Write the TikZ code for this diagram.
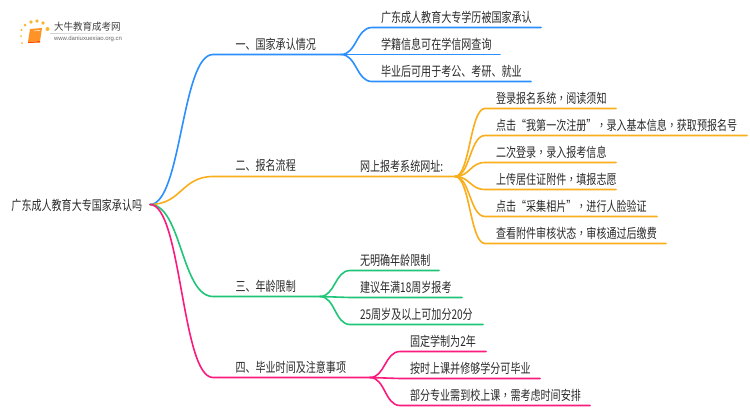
\documentclass[tikz,border=0pt]{standalone}
\usepackage{fontspec}
\setmainfont{Noto Sans CJK SC}[FakeStretch=0.75]
\newfontfamily\tcfont{Noto Sans CJK TC}[FakeStretch=0.75]
\newfontfamily\logofont{Noto Sans CJK SC}[FakeStretch=0.95]
\newfontfamily\urlfont{Liberation Sans}
\newcommand{\cmm}{{\tcfont ，}}
\usetikzlibrary{calc}
\definecolor{cblue}{HTML}{2B8FFF}
\definecolor{corange}{HTML}{F9AE1B}
\definecolor{cgreen}{HTML}{1FC678}
\definecolor{cpink}{HTML}{FB1A7E}
\definecolor{ctext}{HTML}{2A2A2A}
\tikzset{
  x=1pt,y=-1pt,
  lbl/.style={font=\fontsize{13.4}{14}\selectfont,text=ctext,anchor=west,inner sep=0pt,outer sep=0pt},
  wire/.style={line width=1.6pt,line cap=round,line join=round},
  pt/.style={inner sep=0pt,outer sep=0pt,minimum size=0pt}
}
% colour, start, bend end, straight end
\newcommand{\bez}[4]{\draw[wire,#1] (#2) .. controls ($(#2)!0.5!(#2 -| #3)$) and ($(#3)!0.5!(#3 -| #2)$) .. (#3) -- (#4);}
\begin{document}
\begin{tikzpicture}
\useasboundingbox (0,0) rectangle (750,410);
\fill[white] (0,0) rectangle (750,410);
% logo
\shade[left color=black!18,right color=white] (50,33) rectangle (133,33.6);
\foreach \a/\b/\r in {22/43/1,21/36/1,21.5/30/1.2,25/25/1.5,31/22/1.8,37/21/1.9,43/23/1.9,47.5/29/2}
  \fill[corange!90!white] (\a,\b) circle (\r);
\fill[orange!85!white] (30,29) -- (42,28) -- (40,41) -- (28,42) -- cycle;
\fill[orange!60!red] (28,42) -- (40,41) -- (40,42.5) -- (28,43) -- cycle;
\draw[white,line width=.5pt] (34,31) -- (40,30.5);
\node[lbl,font=\logofont\fontsize{10}{10}\selectfont,text=black!75] (logoa) at (54,26.5) {大牛教育成考网};
\node[lbl,font=\urlfont\fontsize{6}{6}\selectfont,text=black!60] (logob) at (54,38.6) {www.daniuxuexiao.org.cn};
% points
\node[pt] (root) at (150,204.5) {};
\node[pt] (a) at (213,54.5) {}; \node[pt] (a1) at (341,54.5) {};
\node[pt] (b) at (213,176.5) {}; \node[pt] (b1) at (455,176.5) {};
\node[pt] (c) at (213,296.5) {}; \node[pt] (c1) at (320,296.5) {};
\node[pt] (d) at (213,377.5) {}; \node[pt] (d1) at (370,377.5) {};
% root and labels
\node[lbl] (rt) at (11.5,205.5) {广东成人教育大专国家承认吗};
\node[lbl] (la) at (235.5,44.5) {一、国家承认情况};
\node[lbl] (lb) at (235.5,165.5) {二、报名流程};
\node[lbl] (lc) at (235.5,286.5) {三、年龄限制};
\node[lbl] (ld) at (235.5,367.5) {四、毕业时间及注意事项};
\node[lbl] (lb1) at (360,166) {网上报考系统网址:};
% leaves
\foreach \n/\y/\e/\t in {p/27.5/541/广东成人教育大专学历被国家承认,q/54.5/500/学籍信息可在学信网查询,r/81.5/531/毕业后可用于考公、考研、就业}{
  \node[lbl] at (381,\y-10) {\t};
  \coordinate (e\n) at (372,\y);
  \coordinate (f\n) at (\e,\y);
  \bez{cblue}{a1}{e\n}{f\n}
}
\foreach \n/\y/\e/\t in {p/108.5/616/{登录报名系统\cmm 阅读须知},q/135.5/747/{点击“我第一次注册”\cmm 录入基本信息\cmm 获取预报名号},r/162.5/616/{二次登录\cmm 录入报考信息},s/189.5/616/{上传居住证附件\cmm 填报志愿},t/216.5/657/{点击“采集相片”\cmm 进行人脸验证},u/243.5/666/{查看附件审核状态\cmm 审核通过后缴费}}{
  \node[lbl] at (496,\y-10) {\t};
  \coordinate (e\n) at (485,\y);
  \coordinate (f\n) at (\e,\y);
  \bez{corange}{b1}{e\n}{f\n}
}
\foreach \n/\y/\e/\t in {p/270.5/439/无明确年龄限制,q/297.5/462/建议年满18周岁报考,r/324.5/483/25周岁及以上可加分20分}{
  \node[lbl] at (360,\y-10) {\t};
  \coordinate (e\n) at (350,\y);
  \coordinate (f\n) at (\e,\y);
  \bez{cgreen}{c1}{e\n}{f\n}
}
\foreach \n/\y/\e/\t in {p/351.5/486/固定学制为2年,q/378.5/540/按时上课并修够学分可毕业,r/405.5/590/{部分专业需到校上课\cmm 需考虑时间安排}}{
  \node[lbl] at (410,\y-10) {\t};
  \coordinate (e\n) at (400,\y);
  \coordinate (f\n) at (\e,\y);
  \bez{cpink}{d1}{e\n}{f\n}
}
\bez{cblue}{root}{a}{a1}
\bez{corange}{root}{b}{b1}
\bez{cgreen}{root}{c}{c1}
\bez{cpink}{root}{d}{d1}
\end{tikzpicture}
\end{document}
